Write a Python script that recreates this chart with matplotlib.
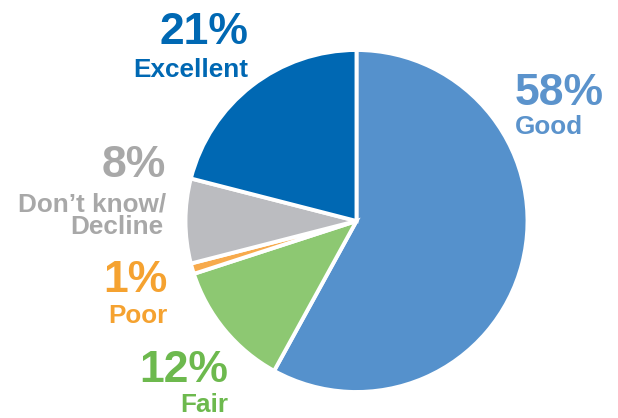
import matplotlib
matplotlib.use("Agg")
import matplotlib.pyplot as plt

categories = ["Good", "Fair", "Poor", "Don\u2019t know/\nDecline", "Excellent"]
values = [58, 12, 1, 8, 21]
colors = ["#5591CC", "#8DC872", "#F7AA4C", "#BBBCC0", "#0068B3"]
text_colors = ["#5B93CC", "#6DB94E", "#F5A230", "#A8A8A8", "#0068B3"]

W, H = 618, 418
fig = plt.figure(figsize=(W / 100, H / 100), dpi=100)
ax = fig.add_axes([0, 0, 1, 1])

cx, cy, r = 356.5, H - 221, 171
ax.pie(values, colors=colors, startangle=90, counterclock=False,
       center=(cx, cy), radius=r, frame=True,
       wedgeprops=dict(edgecolor="white", linewidth=2.8))
ax.set_xlim(0, W)
ax.set_ylim(0, H)
ax.set_aspect("equal")
ax.axis("off")

font = "Liberation Sans"
# (x, pct baseline, label baseline, ha)
layout = {
    "Good": (515, 105, 134, "left"),
    "Fair": (228, 382, 412, "right"),
    "Poor": (167, 292, 323, "right"),
    "Don\u2019t know/\nDecline": (166, 177, 211, "right"),
    "Excellent": (248, 44, 77, "right"),
}
for cat, v, tc in zip(categories, values, text_colors):
    x, yp, yl, ha = layout[cat]
    ax.text(x, H - yp, f"{v}%", ha=ha, va="baseline", fontsize=32,
            fontweight="bold", color=tc, family=font)
    lines = cat.split("\n")
    for i, line in enumerate(lines):
        ax.text(x - (3 if i > 0 else 0), H - yl - i * 22.5, line, ha=ha,
                va="baseline", fontsize=18.8,
                fontweight="bold", color=tc, family=font)

fig.savefig("out.png", dpi=100)
